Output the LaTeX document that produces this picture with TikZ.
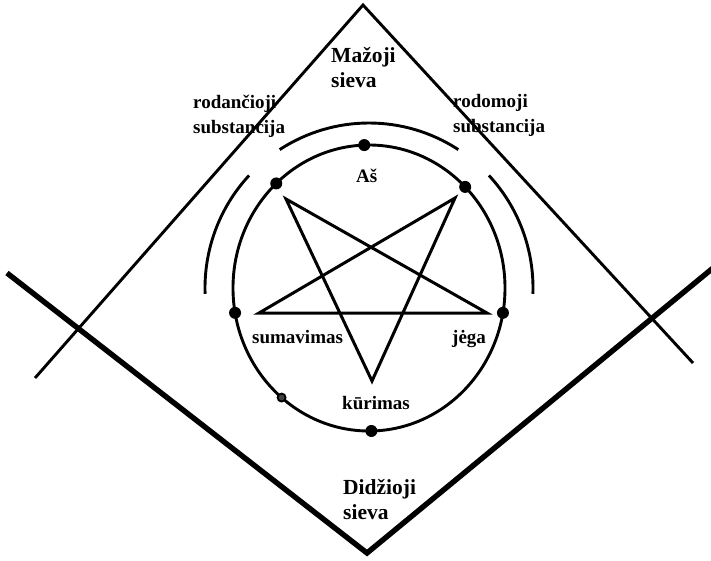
\documentclass[tikz,border=0pt]{standalone}
\usepackage{fontspec}
\setmainfont{Liberation Serif}
\usetikzlibrary{positioning}

\begin{document}
\begin{tikzpicture}[x=1pt, y=-1pt,
        thinline/.style = {line width=2.9pt},
        thickline/.style = {line width=5.4pt},
        ring/.style = {line width=2.9pt},
        starline/.style = {line width=3pt},
        dot/.style = {circle, fill=black, inner sep=0pt, minimum size=12pt},
        smalldot/.style = {circle, draw, fill=black!75, line width=1.8pt, inner sep=0pt, minimum size=8pt},
        word/.style = {inner sep=0pt, align=left, font=\fontsize{19}{25}\selectfont\bfseries},
        bigword/.style = {inner sep=0pt, align=left, font=\fontsize{21.5}{25}\selectfont\bfseries}
    ]
        \useasboundingbox (0,0) rectangle (711,560);

        % Frames: small (top) and big (bottom)
        \coordinate (topApex) at (363,5);
        \coordinate (topLeft) at (35,378);
        \coordinate (topRight) at (693,363);
        \coordinate (botApex) at (367,553);
        \coordinate (botLeft) at (7,273);
        \coordinate (botRight) at (713,268);
        \draw [thinline] (topLeft) -- (topApex) -- (topRight);
        \draw [thickline] (botLeft) -- (botApex) -- (botRight);

        % Circle and outer arcs
        \coordinate (C) at (369,288);
        \draw [ring] (C) ellipse [x radius=136pt, y radius=143pt];
        \draw [ring] ([shift={(57:164pt and 165pt)}]C) arc [start angle=57, end angle=123, x radius=164pt, y radius=165pt];
        \draw [ring] ([shift={(137:164pt and 165pt)}]C) arc [start angle=137, end angle=182, x radius=164pt, y radius=165pt];
        \draw [ring] ([shift={(43:164pt and 165pt)}]C) arc [start angle=43, end angle=-2, x radius=164pt, y radius=165pt];

        % Pentagram
        \coordinate (sUL) at (286,199);
        \coordinate (sUR) at (455,198);
        \coordinate (sL) at (259,313);
        \coordinate (sR) at (487,313);
        \coordinate (sB) at (372,381);
        \draw [starline] (sUL) -- (sB) -- (sUR) -- (sL) -- (sR) -- cycle;

        % Dots on the circle
        \node [dot] (dAs) at ([shift={(92:136pt and 143pt)}]C) {};
        \node [dot] (dRodanc) at ([shift={(133:136pt and 143pt)}]C) {};
        \node [dot] (dRodom) at ([shift={(45:136pt and 143pt)}]C) {};
        \node [dot] (dSum) at ([shift={(190:136pt and 143pt)}]C) {};
        \node [dot] (dJega) at ([shift={(350:136pt and 143pt)}]C) {};
        \node [dot] (dKur) at ([shift={(271:136pt and 143pt)}]C) {};
        \node [smalldot] (dSmall) at ([shift={(230:136pt and 143pt)}]C) {};

        % Labels
        \node [bigword, anchor=base west] (mazoji) at (331,87) {Mažoji\\sieva};
        \node [word, anchor=base west] (rodanc) at (193,133) {rodančioji\\substancija};
        \node [word, anchor=base west] (rodom) at (453,132) {rodomoji\\substancija};
        \node [word, anchor=base west] (as) at (356,182) {Aš};
        \node [word, anchor=base west] (sum) at (252,343) {sumavimas};
        \node [word, anchor=base west] (jega) at (452,343) {jėga};
        \node [word, anchor=base west] (kur) at (342,409) {kūrimas};
        \node [bigword, anchor=base west] (did) at (343,519) {Didžioji\\sieva};
    \end{tikzpicture}
\end{document}
